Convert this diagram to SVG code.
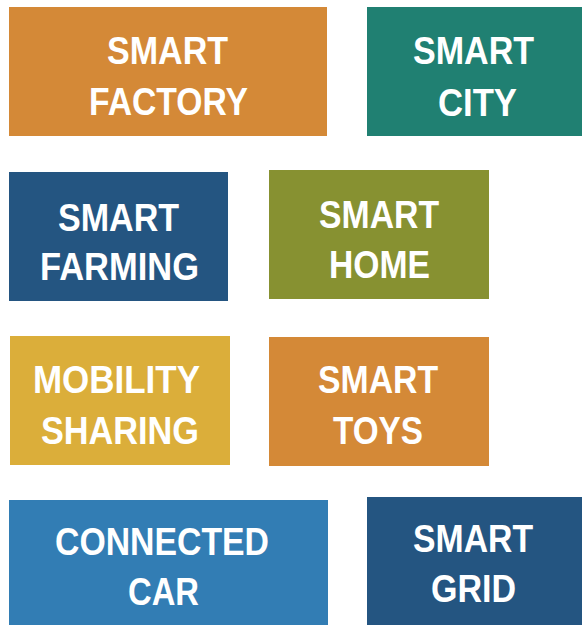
<svg xmlns="http://www.w3.org/2000/svg" width="582" height="625" viewBox="0 0 582 625">
<style>
text{font-family:"Liberation Sans",Arial,sans-serif;font-weight:bold;font-size:39px;fill:#fff;text-anchor:middle}
.orange{fill:#D48937}
.teal{fill:#208072}
.dblue{fill:#245581}
.olive{fill:#879131}
.yellow{fill:#DBAE3A}
.lblue{fill:#327DB4}
</style>
<rect width="582" height="625" fill="#fff"/>
<g id="smart-factory">
<rect class="orange" x="9" y="7" width="318" height="129"/>
<text x="167.5" y="64" textLength="121" lengthAdjust="spacingAndGlyphs">SMART</text>
<text x="168.5" y="115" textLength="159" lengthAdjust="spacingAndGlyphs">FACTORY</text>
</g>
<g id="smart-city">
<rect class="teal" x="367" y="7" width="215" height="129"/>
<text x="473.5" y="64" textLength="121" lengthAdjust="spacingAndGlyphs">SMART</text>
<text x="477.5" y="116" textLength="79" lengthAdjust="spacingAndGlyphs">CITY</text>
</g>
<g id="smart-farming">
<rect class="dblue" x="9" y="172" width="219" height="129"/>
<text x="118.5" y="231" textLength="121" lengthAdjust="spacingAndGlyphs">SMART</text>
<text x="119.5" y="280" textLength="159" lengthAdjust="spacingAndGlyphs">FARMING</text>
</g>
<g id="smart-home">
<rect class="olive" x="269" y="170" width="220" height="129"/>
<text x="379" y="228" textLength="120" lengthAdjust="spacingAndGlyphs">SMART</text>
<text x="379.5" y="278" textLength="101" lengthAdjust="spacingAndGlyphs">HOME</text>
</g>
<g id="mobility-sharing">
<rect class="yellow" x="10" y="336" width="220" height="129"/>
<text x="116.5" y="393" textLength="167" lengthAdjust="spacingAndGlyphs">MOBILITY</text>
<text x="120" y="444" textLength="158" lengthAdjust="spacingAndGlyphs">SHARING</text>
</g>
<g id="smart-toys">
<rect class="orange" x="269" y="337" width="220" height="129"/>
<text x="378" y="393" textLength="120" lengthAdjust="spacingAndGlyphs">SMART</text>
<text x="378" y="444" textLength="90" lengthAdjust="spacingAndGlyphs">TOYS</text>
</g>
<g id="connected-car">
<rect class="lblue" x="9" y="500" width="319" height="125"/>
<text x="162" y="555" textLength="214" lengthAdjust="spacingAndGlyphs">CONNECTED</text>
<text x="163.5" y="605" textLength="71" lengthAdjust="spacingAndGlyphs">CAR</text>
</g>
<g id="smart-grid">
<rect class="dblue" x="367" y="497" width="215" height="128"/>
<text x="473" y="552" textLength="120" lengthAdjust="spacingAndGlyphs">SMART</text>
<text x="473.5" y="602" textLength="85" lengthAdjust="spacingAndGlyphs">GRID</text>
</g>
<g id="connectors"></g>
</svg>
